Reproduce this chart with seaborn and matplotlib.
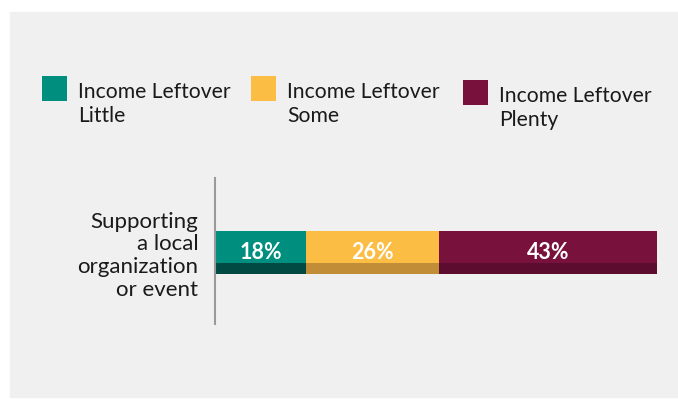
import matplotlib
matplotlib.use("Agg")
import matplotlib.pyplot as plt
import matplotlib.patches as mpatches
import seaborn as sns
import pandas as pd

# data
category = "Supporting\na local\norganization\nor event"
groups = ["Income Leftover\nLittle", "Income Leftover\nSome", "Income Leftover\nPlenty"]
values = [18, 26, 43]
colors = ["#008E7F", "#FCBD45", "#78123D"]
shade_colors = ["#004A43", "#C18D36", "#5B0C2F"]

W, H = 678, 399

sns.set_theme(style="white")
plt.rcParams["font.family"] = ["Lato", "DejaVu Sans"]

fig = plt.figure(figsize=(W / 100, H / 100), dpi=100)
fig.patch.set_facecolor("white")
# grey panel behind the chart
fig.add_artist(mpatches.Rectangle((10 / W, 2 / H), 1, 385 / H,
                                  transform=fig.transFigure, color="#F0F0F0", zorder=0))

ax = fig.add_axes([215 / W, 75 / H, 442 / W, 146 / H])
ax.set_facecolor("none")

# stacked bar: draw cumulative totals from largest to smallest
cum = pd.Series(values).cumsum().tolist()
df = pd.DataFrame({"cat": [category] * 3, "cum": cum, "group": groups})
for i in reversed(range(len(values))):
    sns.barplot(data=df.iloc[[i]], x="cum", y="cat", color=colors[i],
                width=0.3, saturation=1, ax=ax, orient="h", linewidth=0)

# darker strip along the bottom of each segment
starts = [0] + cum[:-1]
for s, v, c in zip(starts, values, shade_colors):
    ax.barh(0.075, v, left=s, height=0.075, align="edge", color=c, linewidth=0)

for s, v in zip(starts, values):
    ax.text(s + v / 2, 0, f"{v}%", ha="center", va="center", color="white",
            fontsize=15.5, fontweight="bold")

ax.set_xlim(0, sum(values))
ax.set_ylim(0.49, -0.51)
ax.set_xlabel("")
ax.set_ylabel("")
ax.set_xticks([])
for side in ["top", "right", "bottom"]:
    ax.spines[side].set_visible(False)
ax.spines["left"].set_color("#9A9A9A")
ax.spines["left"].set_linewidth(1.5)
ax.tick_params(axis="y", length=0, pad=12, labelsize=16, labelcolor="#1A1A1A")
for lab in ax.get_yticklabels():
    lab.set_horizontalalignment("right")
    lab.set_linespacing(1.18)

# legend: colour square plus two-line label for each group
sq_x = [42, 251, 463]
sq_top = [76, 76, 80]
for x0, top, c, g in zip(sq_x, sq_top, colors, groups):
    fig.add_artist(mpatches.Rectangle((x0 / W, 1 - (top + 25) / H), 25 / W, 25 / H,
                                      transform=fig.transFigure, color=c, linewidth=0))
    # baseline of the second line
    fig.text((x0 + 36) / W, 1 - (top + 46) / H, g, fontsize=15.2, color="#1A1A1A",
             ha="left", va="baseline", linespacing=1.23)

fig.savefig("out.png", dpi=100, facecolor=fig.get_facecolor())
